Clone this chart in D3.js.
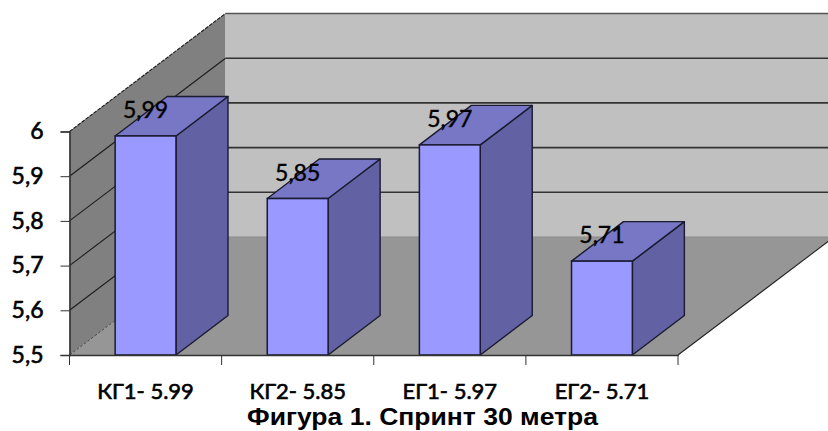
<!DOCTYPE html>
<html>
<head>
<meta charset="utf-8">
<script src="https://cdn.jsdelivr.net/npm/d3@7/dist/d3.min.js"></script>
<style>
html,body{margin:0;padding:0;background:#fff;overflow:hidden}
svg{display:block}
</style>
</head>
<body>
<script>
// Sprint results per group
const categories = ["КГ1- 5.99", "КГ2- 5.85", "ЕГ1- 5.97", "ЕГ2- 5.71"];
const values = [5.99, 5.85, 5.97, 5.71];
const valueLabels = ["5,99", "5,85", "5,97", "5,71"];
const yTicks = [5.5, 5.6, 5.7, 5.8, 5.9, 6];
const yTickLabels = ["5,5", "5,6", "5,7", "5,8", "5,9", "6"];
const figureTitle = "Фигура 1. Спринт 30 метра";

const width = 828, height = 431;
const svg = d3.select("body").append("svg").attr("width", width).attr("height", height);

const x = d3.scaleBand().domain(categories).range([69.5, 678]).paddingInner(0.6).paddingOuter(0.3);
const xOuter = d3.scaleBand().domain(categories).range([69.5, 678]);
const y = d3.scaleLinear().domain([5.5, 6]).range([355, 131.5]);

// Oblique projection offsets: full chart depth and single-bar depth
const depth = { x: 156, y: -118 };
const barDepth = { x: 52, y: -39.5 };

const poly = pts => pts.map(p => p.join(",")).join(" ");
const [x0, x1] = x.range();
const [yBase, yTop] = y.range();

// Side wall, back wall, floor
svg.append("polygon")
  .attr("points", poly([[x0, yBase], [x0, yTop], [x0 + depth.x, yTop + depth.y], [x0 + depth.x, yBase + depth.y]]))
  .attr("fill", "#808080");
svg.append("rect")
  .attr("x", x0 + depth.x).attr("y", yTop + depth.y)
  .attr("width", width - x0 - depth.x).attr("height", yBase - yTop)
  .attr("fill", "#c0c0c0");
svg.append("polygon")
  .attr("points", poly([[x0, yBase], [x1, yBase], [x1 + depth.x, yBase + depth.y], [x0 + depth.x, yBase + depth.y]]))
  .attr("fill", "#969696");

// Gridlines wrap from the side wall onto the back wall
const grid = svg.append("g").selectAll("g").data(yTicks.slice(1)).join("g");
grid.append("line")
  .attr("x1", x0).attr("y1", d => y(d))
  .attr("x2", x0 + depth.x).attr("y2", d => y(d) + depth.y)
  .attr("stroke", "#1c1c1c").attr("stroke-width", 1.1)
  .attr("stroke-dasharray", d => d === 6 ? "4,1" : null);
grid.append("line")
  .attr("x1", x0 + depth.x).attr("y1", d => y(d) + depth.y)
  .attr("x2", width).attr("y2", d => y(d) + depth.y)
  .attr("stroke", d => d === 6 ? "#555" : "#333").attr("stroke-width", 1.6);

// Floor edges
svg.append("line")
  .attr("x1", x0).attr("y1", yBase).attr("x2", x0 + depth.x).attr("y2", yBase + depth.y)
  .attr("stroke", "#333").attr("stroke-width", 0.8).attr("stroke-dasharray", "3,1.5");
svg.append("line")
  .attr("x1", x0 + depth.x).attr("y1", yBase + depth.y).attr("x2", width).attr("y2", yBase + depth.y)
  .attr("stroke", "#8a8a8a").attr("stroke-width", 1);
svg.append("line")
  .attr("x1", x1).attr("y1", yBase).attr("x2", x1 + depth.x).attr("y2", yBase + depth.y)
  .attr("stroke", "#222").attr("stroke-width", 1.1);

// Bars: side, top, front
const barStroke = "#1a1a30";
const bars = svg.append("g").selectAll("g").data(values).join("g");
const bx = (d, i) => x(categories[i]);
const bw = x.bandwidth();
bars.append("polygon")
  .attr("points", (d, i) => {
    const r = bx(d, i) + bw;
    return poly([[r, y(d)], [r + barDepth.x, y(d) + barDepth.y], [r + barDepth.x, yBase + barDepth.y], [r, yBase]]);
  })
  .attr("fill", "#6161a3").attr("stroke", barStroke).attr("stroke-width", 1.4).attr("stroke-linejoin", "round");
bars.append("polygon")
  .attr("points", (d, i) => {
    const l = bx(d, i), r = l + bw;
    return poly([[l, y(d)], [l + barDepth.x, y(d) + barDepth.y], [r + barDepth.x, y(d) + barDepth.y], [r, y(d)]]);
  })
  .attr("fill", "#7777c6").attr("stroke", barStroke).attr("stroke-width", 1.4).attr("stroke-linejoin", "round");
bars.append("rect")
  .attr("x", bx).attr("y", d => y(d))
  .attr("width", bw).attr("height", d => yBase - y(d))
  .attr("fill", "#9999ff").attr("stroke", barStroke).attr("stroke-width", 1.5);

// Value labels above each bar
svg.append("g").selectAll("text").data(values).join("text")
  .attr("x", (d, i) => bx(d, i) + bw / 2)
  .attr("y", d => y(d) - 18)
  .attr("text-anchor", "middle")
  .attr("font-family", "Lato, sans-serif").attr("font-size", 23).attr("fill", "#000")
  .attr("stroke", "#000").attr("stroke-width", 0.4)
  .text((d, i) => valueLabels[i]);

// Axes
const axisColor = "#333";
const yAxis = d3.axisLeft(y).tickValues(yTicks).tickSize(9).tickPadding(17)
  .tickFormat((d, i) => yTickLabels[i]);
const yG = svg.append("g").attr("transform", `translate(${x0},0)`).call(yAxis);
const xAxis = d3.axisBottom(xOuter).tickSize(0);
const xG = svg.append("g").attr("transform", `translate(0,${yBase})`).call(xAxis);

// Category boundary ticks drop below the baseline
xG.selectAll(".bound").data(d3.range(categories.length + 1)).join("line")
  .attr("class", "bound")
  .attr("x1", i => x0 + i * xOuter.step()).attr("x2", i => x0 + i * xOuter.step())
  .attr("y1", 0).attr("y2", 10).attr("stroke", axisColor);

[yG, xG].forEach(g => {
  g.selectAll(".domain").attr("stroke", axisColor).attr("stroke-width", 1.6);
  g.selectAll(".tick line").attr("stroke", axisColor);
});
yG.selectAll(".tick text")
  .attr("font-family", "Lato, sans-serif").attr("font-size", 23).attr("fill", "#000")
  .attr("stroke", "#000").attr("stroke-width", 0.6);
xG.selectAll(".tick text")
  .attr("y", 43.5).attr("dy", 0)
  .attr("font-family", "Lato, sans-serif").attr("font-size", 22).attr("fill", "#000")
  .attr("stroke", "#000").attr("stroke-width", 0.65);

// Caption
svg.append("text")
  .attr("x", 422.5).attr("y", 425)
  .attr("text-anchor", "middle")
  .attr("font-family", "'Liberation Sans', Arial, sans-serif")
  .attr("font-weight", 700).attr("font-size", 23.5).attr("fill", "#000")
  .attr("textLength", 351).attr("lengthAdjust", "spacingAndGlyphs")
  .text(figureTitle);
</script>
</body>
</html>
